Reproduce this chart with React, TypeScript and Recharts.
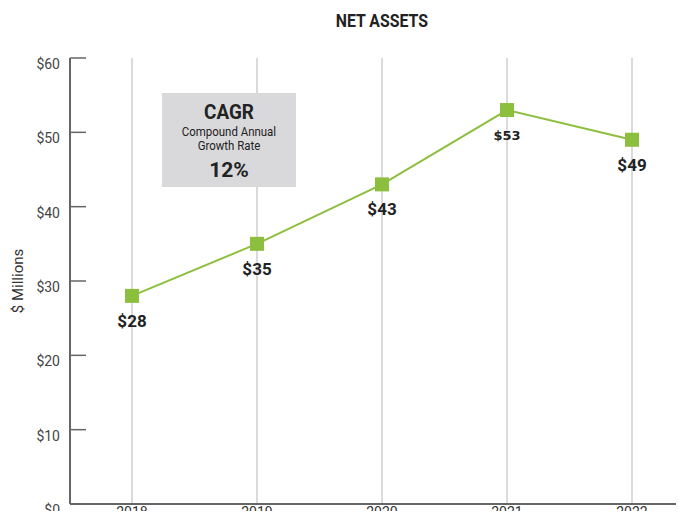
import React from 'react';
import { LineChart, Line, XAxis, YAxis, CartesianGrid, LabelList } from 'recharts';

const years = ['2018', '2019', '2020', '2021', '2022'];
const netAssets = [28, 35, 43, 53, 49];
const yTicks = [0, 10, 20, 30, 40, 50, 60];

const data = years.map((year, i) => ({ year, value: netAssets[i] }));

const FONT = "'Roboto', 'Liberation Sans', sans-serif";
const GREEN = '#8dbf3e';

const YTick = (props: any) => {
  const { x, y, payload } = props;
  return (
    <g>
      <line x1={x} x2={x + 16} y1={y} y2={y} stroke="#666" strokeWidth={1.5} />
      <text x={x - 10} y={y + 6} textAnchor="end" dominantBaseline="central" fill="#444" fontSize={14} fontFamily={FONT}>
        ${payload.value}
      </text>
    </g>
  );
};

const SquareDot = (props: any) => {
  const { cx, cy } = props;
  return <rect x={cx - 7} y={cy - 7} width={14} height={14} fill={GREEN} />;
};

const ValueLabel = (props: any) => {
  const { x, y, value, index } = props;
  const odd = years[index] === '2021';
  return (
    <text
      x={x}
      y={y + 25}
      textAnchor="middle"
      dominantBaseline="central"
      fill="#222"
      fontWeight="bold"
      fontSize={odd ? 13 : 17}
      fontFamily={odd ? "'DejaVu Sans', sans-serif" : FONT}
    >
      ${value}
    </text>
  );
};

export default function App() {
  return (
    <div style={{ position: 'relative', width: 684, height: 519, margin: -8, overflow: 'hidden', background: '#fff' }}>
      <div style={{ position: 'absolute', top: 10, left: 0, width: 764, textAlign: 'center', fontFamily: FONT, fontWeight: 'bold', fontSize: 18, color: '#222', transform: 'scaleX(0.88)', transformOrigin: '381px 0' }}>
        NET ASSETS
      </div>
      <div style={{ position: 'absolute', left: 18, top: 281, transform: 'translate(-50%, -50%) rotate(-90deg)', fontFamily: FONT, fontSize: 15, color: '#333', whiteSpace: 'nowrap' }}>
        $ Millions
      </div>
      <LineChart width={710} height={540} data={data} margin={{ top: 58, right: 16, bottom: 6, left: 0 }}>
        <CartesianGrid horizontal={false} stroke="#cfcfcf" strokeWidth={1.5} />
        <XAxis
          dataKey="year"
          padding={{ left: 62, right: 62 }}
          axisLine={{ stroke: '#666', strokeWidth: 2 }}
          tickLine={false}
          tickSize={0}
          tickMargin={3}
          height={30}
          tick={{ fill: '#333', fontSize: 14, fontFamily: FONT }}
        />
        <YAxis
          domain={[0, 60]}
          ticks={yTicks}
          width={70}
          axisLine={{ stroke: '#666', strokeWidth: 2 }}
          tickLine={false}
          tickSize={0}
          tickMargin={0}
          tick={<YTick />}
          interval={0}
        />
        <Line
          dataKey="value"
          stroke={GREEN}
          strokeWidth={2}
          dot={<SquareDot />}
          activeDot={false}
          isAnimationActive={false}
        >
          <LabelList dataKey="value" content={<ValueLabel />} />
        </Line>
      </LineChart>
      <div style={{ position: 'absolute', left: 162, top: 93, width: 134, height: 94, background: '#d9d9db', textAlign: 'center', fontFamily: FONT, color: '#222' }}>
        <div style={{ fontWeight: 'bold', fontSize: 21, marginTop: 8, lineHeight: '22px', transform: 'scaleX(0.9)' }}>CAGR</div>
        <div style={{ fontSize: 13, lineHeight: '14px', marginTop: 2, transform: 'scaleX(0.88)' }}>Compound Annual<br />Growth Rate</div>
        <div style={{ fontWeight: 'bold', fontSize: 21, lineHeight: '22px', marginTop: 6 }}>12%</div>
      </div>
    </div>
  );
}
